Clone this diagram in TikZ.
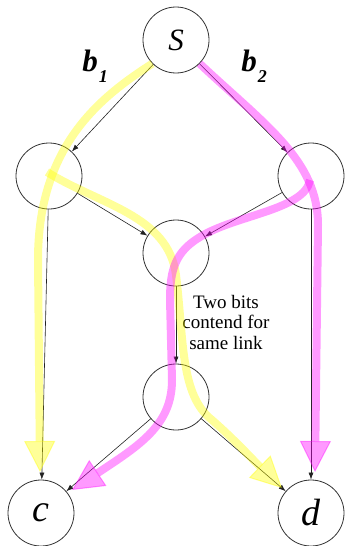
\documentclass[tikz,border=0pt]{standalone}
\usepackage{fontspec}
\setmainfont{Liberation Serif}
\usetikzlibrary{arrows.meta}
\definecolor{ink}     {HTML}{222222}
\definecolor{ring}    {HTML}{333333}
\definecolor{hiyellow}{HTML}{FFFF00}
\definecolor{himagenta}{HTML}{FF00FF}
\tikzset{
  sw/.style    ={circle, draw=ring, line width=0.8pt, minimum size=66pt,
                 inner sep=0pt},
  ends/.style  ={sw, font=\fontsize{38}{38}\selectfont\itshape},
  ar/.style    ={-{Latex[length=7pt,width=5pt]}, draw=ink, line width=0.6pt},
  hl/.style    ={line width=8pt, draw opacity=0.4, fill opacity=0.4,
                 -{Triangle[length=31pt,width=31pt,line width=1pt]}},
  hly/.style   ={hl, draw=hiyellow},
  hlm/.style   ={hl, draw=himagenta},
  bit/.style   ={font=\fontsize{31}{31}\selectfont\bfseries\itshape},
  note/.style  ={font=\fontsize{19}{20.5}\selectfont, align=center}
}

\begin{document}
\begin{tikzpicture}[x=1pt,y=-1pt]
\useasboundingbox (0,0) rectangle (346,546);
\node[sw, font=\fontsize{31}{31}\selectfont\itshape] (src) at (176,40) {S};
\node[sw] (lft)  at (49,176)  {};
\node[sw] (rgt)  at (311,176) {};
\node[sw] (mida) at (176,253) {};
\node[sw] (midb) at (176,397) {};
\node[ends] (dstc) at (41,513)  {c};
\node[ends] (dstd) at (311,513) {d};

\node[bit] (bita) at (95,66)
  {b\kern1pt\raisebox{-11pt}{\fontsize{18}{18}\selectfont 1}};
\node[bit] (bitb) at (254,66)
  {b\kern1pt\raisebox{-11pt}{\fontsize{18}{18}\selectfont 2}};
\node[note] (clash) at (226,322) {Two bits\\contend for\\same link};

% links
\draw[ar] (src)  -- (lft);
\draw[ar] (src)  -- (rgt);
\draw[ar] (lft)  -- (mida);
\draw[ar] (rgt)  -- (mida);
\draw[ar] (mida) -- (midb);
\draw[ar] (lft)  -- (dstc);
\draw[ar] (rgt)  -- (dstd);
\draw[ar] (midb) -- (dstc);
\draw[ar] (midb) -- (dstd);

% bit b1
\draw[hly] (src.225) .. controls (95,100) and (38,150) .. (38,260)
  -- (40,472);
\draw[hly] (47,172) .. controls (100,205) and (168,215) .. (176,275)
  .. controls (184,340) and (180,395) .. (212,420)
  .. controls (235,440) and (255,462) .. (282,488);
% bit b2
\draw[hlm] (src.-45) .. controls (265,125) and (318,160) .. (318,225)
  -- (315,472);
\draw[hlm] (310,180) .. controls (305,210) and (235,215) .. (200,237)
  .. controls (175,252) and (170,270) .. (170,300) -- (172,380)
  .. controls (172,425) and (140,445) .. (72,490);
\end{tikzpicture}
\end{document}
